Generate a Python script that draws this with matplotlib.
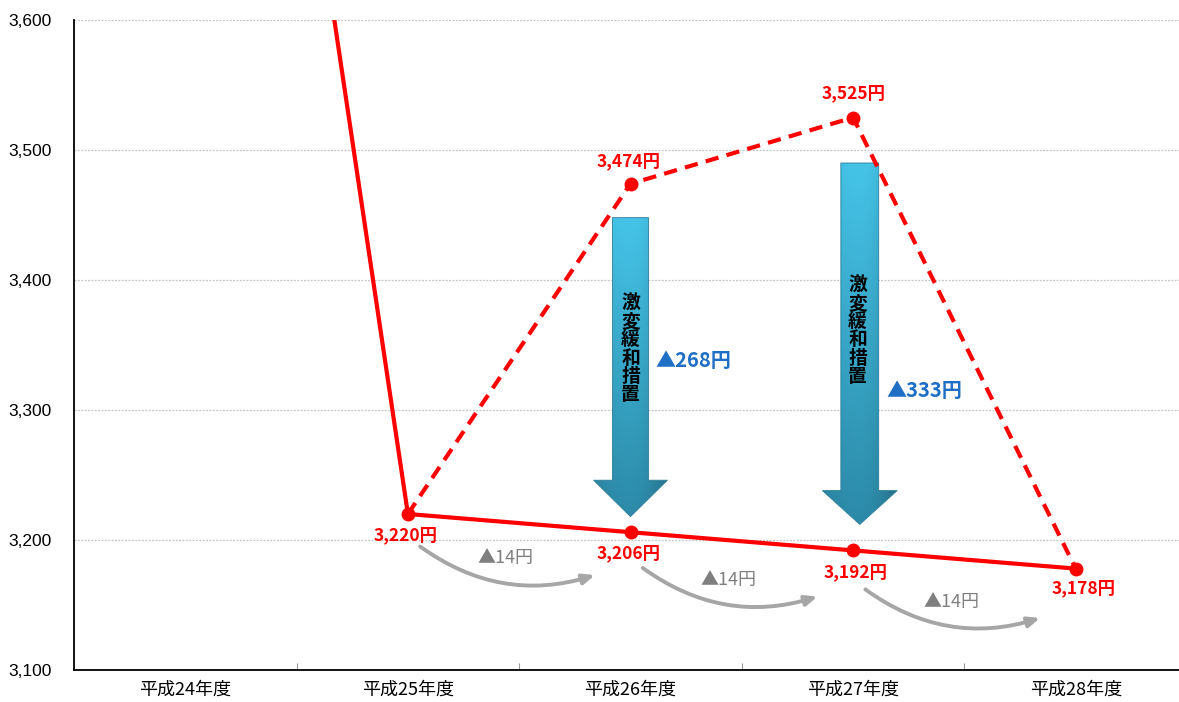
import numpy as np
import matplotlib
matplotlib.use("Agg")
import matplotlib.pyplot as plt
from matplotlib.patches import Polygon, FancyArrowPatch
from matplotlib.colors import to_rgb

plt.rcParams['font.family'] = ['Noto Sans CJK JP', 'DejaVu Sans']

# ---------------- data ----------------
categories = ["平成24年度", "平成25年度", "平成26年度", "平成27年度", "平成28年度"]
actual_values = [4370, 3220, 3206, 3192, 3178]          # solid line (after relief measures)
planned_x = [1, 2, 3, 4]
planned_values = [3220, 3474, 3525, 3178]               # dashed line (without relief)
yticks = [3100, 3200, 3300, 3400, 3500, 3600]
relief_labels = ["▲268円", "▲333円"]
relief_text = "激変緩和措置"
step_label = "▲14円"

# ---------------- layout / style ----------------
W, H = 1179, 702
fig = plt.figure(figsize=(W / 100, H / 100), dpi=100)
ax = fig.add_axes([74 / W, 32 / H, 1113 / W, 650 / H])

RED = "#ff0000"
GRAY = "#a6a6a6"
BLUE = "#1f6fc4"

x = np.arange(len(categories))

# grid
ax.set_ylim(3100, 3600)
ax.set_xlim(-0.5, 4.5)
ax.set_yticks(yticks)
ax.set_yticklabels([f"{v:,}" for v in yticks], family="Liberation Sans", fontsize=12.5)
for v in yticks[1:]:
    ax.axhline(v, color="#c4c4c4", lw=0.9, ls=(0, (1.5, 1.2)), zorder=0)

ax.set_xticks(x)
ax.set_xticklabels(categories, fontsize=13)
ax.set_xticks([0.5, 1.5, 2.5, 3.5], minor=True)
ax.tick_params(axis="x", which="major", length=0, pad=8)
ax.tick_params(axis="x", which="minor", direction="in", length=5, width=0.8, color="#999999")
ax.tick_params(axis="y", length=0, pad=16)

for s in ["top", "right"]:
    ax.spines[s].set_visible(False)
ax.spines["left"].set_color("black")
ax.spines["bottom"].set_color("black")
ax.spines["left"].set_linewidth(1.3)
ax.spines["bottom"].set_linewidth(1.3)


# ---------------- gradient arrows ----------------
def grad_arrow(cx, top, hb, tip, sw, hw):
    verts = [(cx - sw, top), (cx + sw, top), (cx + sw, hb), (cx + hw, hb),
             (cx, tip), (cx - hw, hb), (cx - sw, hb)]
    poly = Polygon(verts, closed=True, facecolor="none", edgecolor="#2b7d99",
                   lw=0.6, zorder=3)
    ax.add_patch(poly)
    ny, nx = 200, 60
    t = np.linspace(0, 1, ny)[:, None]            # 0 top -> 1 bottom
    u = np.linspace(-1, 1, nx)[None, :]
    c_top = np.array(to_rgb("#45c4e8"))
    c_bot = np.array(to_rgb("#2c8aa8"))
    base = c_top[None, None, :] * (1 - t[..., None]) + c_bot[None, None, :] * t[..., None]
    shade = 1 - 0.22 * np.clip(u, 0, 1) ** 2 - 0.08 * np.clip(-u, 0, 1) ** 2
    img = np.clip(base * shade[..., None], 0, 1)
    im = ax.imshow(img, extent=[cx - hw, cx + hw, tip, top], aspect="auto",
                   origin="upper", zorder=2, interpolation="bilinear")
    im.set_clip_path(poly)


grad_arrow(2.0, 3448, 3246, 3218, 0.081, 0.166)
grad_arrow(3.03, 3490, 3238, 3212, 0.085, 0.168)

ax.text(2.0, 3347, "\n".join(relief_text), ha="center", va="center", fontsize=13.5,
        fontweight="bold", color="black", linespacing=0.95, zorder=4)
ax.text(3.02, 3361, "\n".join(relief_text), ha="center", va="center", fontsize=13.5,
        fontweight="bold", color="black", linespacing=0.95, zorder=4)
ax.text(2.11, 3338, relief_labels[0], ha="left", va="center", fontsize=14.5,
        fontweight="bold", color=BLUE, zorder=4)
ax.text(3.148, 3315, relief_labels[1], ha="left", va="center", fontsize=14.5,
        fontweight="bold", color=BLUE, zorder=4)

# ---------------- lines ----------------
ax.plot(planned_x, planned_values, color=RED, lw=3, ls=(0, (3.2, 2.0)),
        marker="o", ms=9, markevery=[1, 2], zorder=5)
ax.plot(x, actual_values, color=RED, lw=3, marker="o", ms=9,
        markevery=[1, 2, 3, 4], zorder=6)

# value labels
lab_kw = dict(ha="center", va="center", fontsize=12.5, fontweight="bold", color=RED, zorder=7)
for xi, v, dx, dy in [(1, actual_values[1], -0.01, -16.5), (2, actual_values[2], -0.01, -16),
                      (3, actual_values[3], 0.01, -17), (4, actual_values[4], 0.035, -15),
                      (2, planned_values[1], -0.01, 17), (3, planned_values[2], 0.0, 19)]:
    ax.text(xi + dx, v + dy, f"{v:,}円", **lab_kw)

# gray step arrows
for i in range(1, 4):
    start = (i + 0.055, actual_values[i] - 25 - (i - 1) * 2.5)
    end = (i + 0.84, actual_values[i + 1] - 33 - (i - 1) * 2.5)
    arr = FancyArrowPatch(start, end, connectionstyle="arc3,rad=0.25",
                          arrowstyle="-|>,head_length=7,head_width=3",
                          color=GRAY, lw=2.8, zorder=4, shrinkA=0, shrinkB=0)
    ax.add_patch(arr)
    ax.text(i + 0.44, actual_values[i] - 34 - (i - 1) * 3, step_label, ha="center",
            va="center", fontsize=13, color="#7f7f7f", zorder=4)

fig.savefig("out.png", dpi=100)
